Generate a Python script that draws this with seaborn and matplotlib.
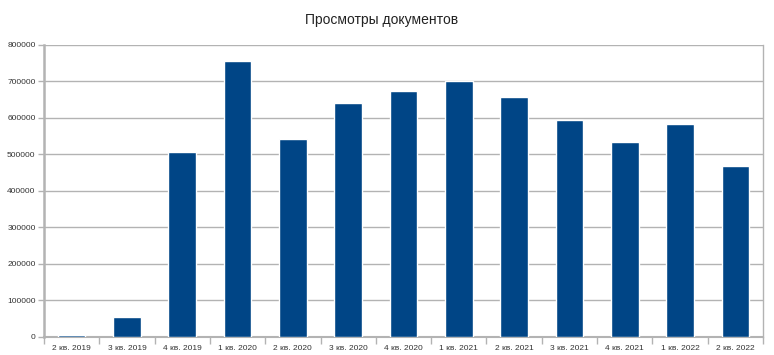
import matplotlib
matplotlib.use('Agg')
import matplotlib.pyplot as plt
import pandas as pd
import seaborn as sns
from matplotlib.ticker import FixedLocator

sns.set_style("white")
plt.rcParams['font.family'] = ['Liberation Sans', 'DejaVu Sans']

#data
quarters = ['2 кв. 2019', '3 кв. 2019', '4 кв. 2019', '1 кв. 2020', '2 кв. 2020',
            '3 кв. 2020', '4 кв. 2020', '1 кв. 2021', '2 кв. 2021', '3 кв. 2021',
            '4 кв. 2021', '1 кв. 2022', '2 кв. 2022']
views = [4000, 53000, 505000, 755000, 541000, 639000, 673000, 701000,
         655000, 592000, 533000, 582000, 467000]
df = pd.DataFrame({'quarter': quarters, 'views': views})

fig = plt.figure(figsize=(7.74, 3.55), dpi=100)
ax = fig.add_axes([0.0568, 0.052, 0.9290, 0.8226])
sns.barplot(data=df, x='quarter', y='views', color='#004586', width=0.5,
            saturation=1, ax=ax, zorder=3)

grid_col = '#b3b3b3'
ax.set_ylim(0, 800000)
ax.set_xlim(-0.5, len(quarters) - 0.5)
ax.set_yticks(range(0, 800001, 100000))
ax.set_yticklabels([str(v) for v in range(0, 800001, 100000)])
ax.yaxis.grid(True, color=grid_col, linewidth=1, zorder=0)
ax.set_xlabel('')
ax.set_ylabel('')

#category boundary ticks like LibreOffice
ax.xaxis.set_minor_locator(FixedLocator([i - 0.5 for i in range(len(quarters) + 1)]))
ax.tick_params(axis='x', which='major', length=0, labelsize=6, pad=6, colors='#333333')
ax.tick_params(axis='x', which='minor', length=5, width=1, color=grid_col, bottom=True)
ax.tick_params(axis='y', which='major', length=4, width=1, color=grid_col, labelsize=6,
               left=True, labelcolor='#333333', pad=2)

for s in ['top']:
    ax.spines[s].set_visible(False)
ax.spines['left'].set_color(grid_col)
ax.spines['left'].set_linewidth(1.8)
ax.spines['bottom'].set_color(grid_col)
ax.spines['bottom'].set_linewidth(1.5)
ax.spines['right'].set_color(grid_col)
ax.spines['right'].set_linewidth(1)

fig.text(0.4935, 0.943, 'Просмотры документов', ha='center', va='center', fontsize=10, color='#222222')

plt.savefig('out.png', dpi=100)
